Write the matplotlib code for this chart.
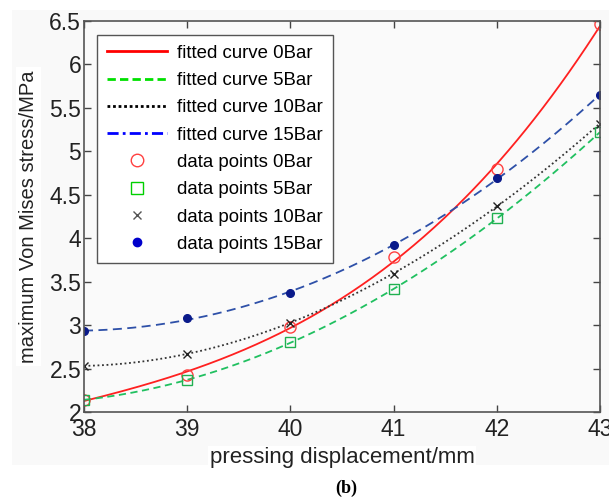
import numpy as np
import matplotlib
matplotlib.use("Agg")
import matplotlib.pyplot as plt
from matplotlib.lines import Line2D
from matplotlib.patches import Rectangle

plt.rcParams['font.family'] = ['Liberation Sans', 'DejaVu Sans']

displacement = [38, 39, 40, 41, 42, 43]
stress_0bar = [2.14, 2.43, 2.98, 3.78, 4.80, 6.46]
stress_5bar = [2.14, 2.37, 2.80, 3.41, 4.23, 5.22]
stress_10bar = [2.53, 2.67, 3.03, 3.59, 4.37, 5.32]
stress_15bar = [2.93, 3.08, 3.37, 3.92, 4.69, 5.65]

x_ticks = [38, 39, 40, 41, 42, 43]
y_ticks = [2, 2.5, 3, 3.5, 4, 4.5, 5, 5.5, 6, 6.5]
y_tick_labels = ['2', '2.5', '3', '3.5', '4', '4.5', '5', '5.5', '6', '6.5']

W, H = 609, 499
fig = plt.figure(figsize=(W / 100, H / 100), dpi=100)
bg = Rectangle((12 / W, 1 - 465 / H), 1 - 12 / W, (465 - 10) / H,
               transform=fig.transFigure, facecolor='#f9f9f9', edgecolor='none')
bg.set_zorder(-10)
fig.add_artist(bg)
ax = fig.add_axes([84 / W, 1 - 412 / H, (600 - 84) / W, (412 - 21) / H])
ax.set_zorder(1)
ax.set_facecolor('#fafafa')

xs = np.array(displacement, dtype=float)
xf = np.linspace(xs.min(), xs.max(), 300)

def fit(vals, deg=3):
    p = np.polyfit(xs, np.array(vals), deg)
    return np.polyval(p, xf)

ax.plot(xf, fit(stress_0bar), color='#ff2020', lw=1.3, ls='-')
ax.plot(xf, fit(stress_5bar), color='#20c060', lw=1.3, ls=(0, (4, 2.5)))
ax.plot(xf, fit(stress_10bar), color='#333333', lw=1.3, ls=(0, (1, 1.5)))
ax.plot(xf, fit(stress_15bar), color='#2e50a8', lw=1.3, ls=(0, (5, 3)))

ax.plot(xs, stress_0bar, ls='none', marker='o', ms=8, mfc='none', mec='#ff4040', mew=1.0)
ax.plot(xs, stress_5bar, ls='none', marker='s', ms=7.5, mfc='none', mec='#20b050', mew=1.0)
ax.plot(xs, stress_10bar, ls='none', marker='x', ms=6, color='#222222', mew=1.0)
ax.plot(xs, stress_15bar, ls='none', marker='o', ms=5.5, color='#0a1a8a')

ax.set_xlim(38, 43)
ax.set_ylim(2, 6.5)
ax.set_xticks(x_ticks)
ax.set_xticklabels([str(t) for t in x_ticks], fontsize=16.5)
ax.set_yticks(y_ticks)
ax.set_yticklabels(y_tick_labels, fontsize=16.5)
ax.tick_params(direction='in', top=True, right=True, length=5, width=1, colors='#444444', labelcolor='#222222')
ax.tick_params(axis='x', pad=4)
ax.tick_params(axis='y', pad=2)
for s in ax.spines.values():
    s.set_color('#555555')
    s.set_linewidth(1.2)

ax.set_xlabel('pressing displacement/mm', fontsize=16, color='#222222', labelpad=5,
              bbox=dict(facecolor='white', edgecolor='none', pad=1))
ax.set_ylabel('maximum Von Mises stress/MPa', fontsize=14.5, color='#222222', labelpad=8,
              bbox=dict(facecolor='white', edgecolor='none', pad=2))

handles = [
    Line2D([], [], color='#ff0000', lw=2, ls='-'),
    Line2D([], [], color='#00e000', lw=2, ls=(0, (3, 1.5))),
    Line2D([], [], color='#000000', lw=2, ls=(0, (1, 1))),
    Line2D([], [], color='#0000ff', lw=2, ls=(0, (4, 1.5, 1, 1.5))),
    Line2D([], [], ls='none', marker='o', ms=9, mfc='none', mec='#ff4040', mew=1.0),
    Line2D([], [], ls='none', marker='s', ms=9, mfc='none', mec='#00d000', mew=1.0),
    Line2D([], [], ls='none', marker='x', ms=6, color='#555555', mew=1.0),
    Line2D([], [], ls='none', marker='o', ms=6, color='#0000cc'),
]
labels = ['fitted curve 0Bar', 'fitted curve 5Bar', 'fitted curve 10Bar', 'fitted curve 15Bar',
          'data points 0Bar', 'data points 5Bar', 'data points 10Bar', 'data points 15Bar']
leg = ax.legend(handles, labels, loc='upper left', bbox_to_anchor=(0.025, 0.965),
                borderaxespad=0, fontsize=13.4, handlelength=3.2, handletextpad=0.55,
                labelspacing=0.55, borderpad=0.55, fancybox=False, framealpha=1)
leg.get_frame().set_edgecolor('#555555')
leg.get_frame().set_linewidth(1.0)
leg.get_frame().set_facecolor('white')

fig.text(346 / W, 1 - 488 / H, '(b)', fontsize=13, fontweight='bold', ha='center', va='center',
         family=['Liberation Serif', 'DejaVu Serif'])

fig.savefig('out.png', dpi=100, facecolor='white')
